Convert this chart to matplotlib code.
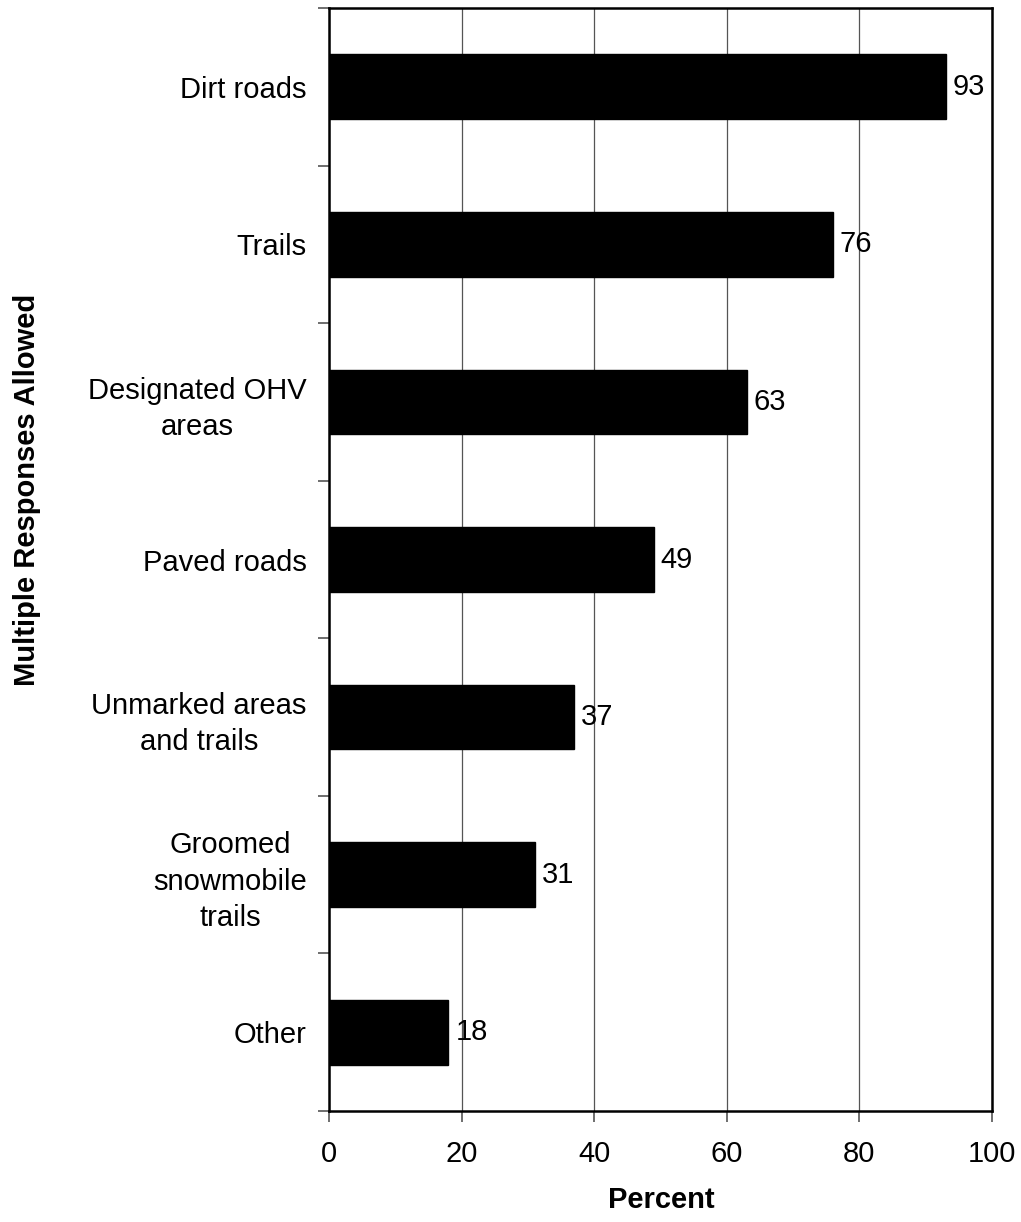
import matplotlib
matplotlib.use("Agg")
import matplotlib.pyplot as plt
import numpy as np

plt.rcParams['font.family'] = ['Liberation Sans', 'DejaVu Sans']

categories = [
    "Dirt roads",
    "Trails",
    "Designated OHV\nareas",
    "Paved roads",
    "Unmarked areas\nand trails",
    "Groomed\nsnowmobile\ntrails",
    "Other",
]
percent = [93, 76, 63, 49, 37, 31, 18]
x_ticks = [0, 20, 40, 60, 80, 100]

FS = 21

fig = plt.figure(figsize=(10.21, 12.22), dpi=100)
ax = fig.add_axes([329 / 1021, 1 - 1111 / 1222, 663 / 1021, 1103 / 1222])

y = np.arange(len(categories))
ax.barh(y, percent, height=0.41, color='black', edgecolor='black', zorder=3)

for yi, v in zip(y, percent):
    ax.annotate(f"{v}", xy=(v, yi), xytext=(5, 0), textcoords='offset points',
                ha='left', va='center', fontsize=FS, zorder=4)

ax.set_xlim(0, 100)
ax.set_ylim(len(categories) - 0.5, -0.5)

ax.set_xticks(x_ticks)
ax.set_xticklabels([str(t) for t in x_ticks])
ax.tick_params(axis='x', direction='out', length=8, width=1.2, pad=13,
               labelsize=FS, color='#555555')

ax.set_yticks(y)
ax.set_yticklabels(categories)
ax.tick_params(axis='y', which='major', length=0, pad=16, labelsize=FS)
ax.set_yticks(np.arange(-0.5, len(categories), 1.0), minor=True)
ax.tick_params(axis='y', which='minor', direction='out', length=8, width=1.2,
               color='#555555')
for lab in ax.get_yticklabels():
    lab.set_multialignment('center')
    lab.set_linespacing(1.38)

ax.xaxis.grid(True, color='#555555', linewidth=0.9, zorder=0)
ax.set_axisbelow(True)

for side in ['left', 'bottom', 'top', 'right']:
    ax.spines[side].set_linewidth(1.8)
    ax.spines[side].set_color('black')
    ax.spines[side].set_zorder(5)

ax.set_xlabel("Percent", fontsize=FS, fontweight='bold')
ax.xaxis.set_label_coords((661 - 329) / 663, (1111 - 1208) / 1103)
ax.xaxis.label.set_va('baseline')
ax.set_ylabel("Multiple Responses Allowed", fontsize=FS, fontweight='bold')
ax.yaxis.set_label_coords((27 - 329) / 663, (1111 - 490) / 1103)
ax.yaxis.label.set_va('center')

fig.savefig("out.png", dpi=100, facecolor='white')
